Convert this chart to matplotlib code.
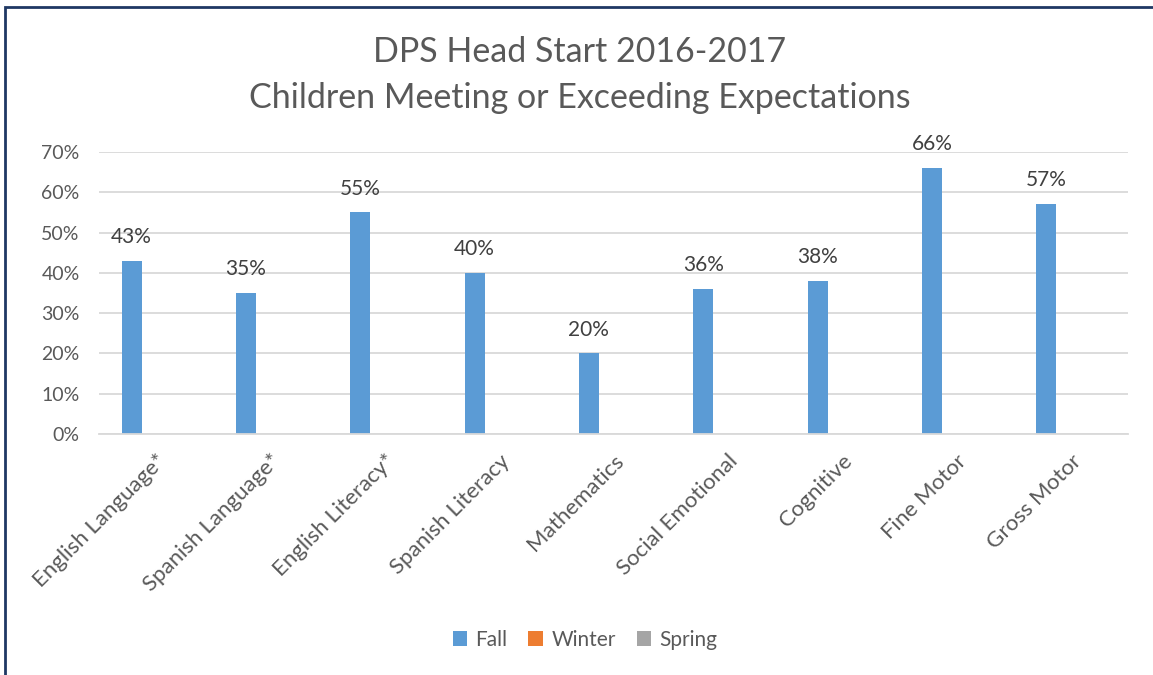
import matplotlib
matplotlib.use("Agg")
import matplotlib.pyplot as plt
import matplotlib.transforms as mtrans
from matplotlib.patches import Patch, Rectangle
import numpy as np

categories = ["English Language*", "Spanish Language*", "English Literacy*", "Spanish Literacy",
              "Mathematics", "Social Emotional", "Cognitive", "Fine Motor", "Gross Motor"]
fall = [43, 35, 55, 40, 20, 36, 38, 66, 57]
series_names = ["Fall", "Winter", "Spring"]
series_colors = ["#5B9BD5", "#ED7D31", "#A5A5A5"]
yticks = [0, 10, 20, 30, 40, 50, 60, 70]
title = "DPS Head Start 2016-2017\nChildren Meeting or Exceeding Expectations"

FONT = ["Lato", "DejaVu Sans"]
TXT = "#595959"
plt.rcParams['font.family'] = FONT

fig = plt.figure(figsize=(11.53, 6.75), dpi=100)
ax = fig.add_axes([99/1153, 241/675, (1128-99)/1153, (434-152)/675])

x = np.arange(len(categories))
bw = 0.175
bars = ax.bar(x - 0.215, fall, width=bw, color=series_colors[0], zorder=3)
for xi, v in zip(x - 0.215, fall):
    ax.annotate(f"{v}%", (xi, v), xytext=(0, 10), textcoords="offset points",
                ha="center", va="bottom", fontsize=15, color="#404040")

ax.set_xlim(-0.5, len(categories) - 0.5)
ax.set_ylim(0, 70)
ax.set_yticks(yticks)
ax.set_yticklabels([f"{t}%" for t in yticks], fontsize=14, color=TXT)
ax.set_xticks(x)
ax.set_xticklabels(categories, rotation=45, ha="right", rotation_mode="anchor",
                   fontsize=16, color=TXT)
shift = mtrans.ScaledTranslation(-13/100, 0, fig.dpi_scale_trans)
for lab in ax.get_xticklabels():
    lab.set_transform(lab.get_transform() + shift)
ax.tick_params(length=0)
ax.tick_params(axis="x", pad=12)
ax.tick_params(axis="y", pad=14)
ax.yaxis.grid(True, color="#D9D9D9", linewidth=1.3, zorder=0)
for s in ["top", "right", "left"]:
    ax.spines[s].set_visible(False)
ax.spines["bottom"].set_color("#D9D9D9")
ax.spines["bottom"].set_linewidth(1.3)
ax.spines["bottom"].set_zorder(4)

fig.text(580/1153, 1 - 75/675, title, ha="center", va="center", fontsize=24.5,
         color=TXT, linespacing=1.55)

handles = [Patch(facecolor=c, edgecolor="none") for c in series_colors]
fig.legend(handles, series_names, loc="center", bbox_to_anchor=(585/1153, 1 - 640/675),
           ncol=3, frameon=False, fontsize=15, labelcolor=TXT, handlelength=0.7,
           handleheight=0.7, handletextpad=0.4, columnspacing=1.0)

# outer frame (top and left edges visible)
fig.add_artist(Rectangle((5/1153, -0.1), 1.2, (1 - 7/675) + 0.1, transform=fig.transFigure,
                         fill=False, edgecolor="#1F3864", linewidth=2))

fig.savefig("out.png", dpi=100, facecolor="white")
